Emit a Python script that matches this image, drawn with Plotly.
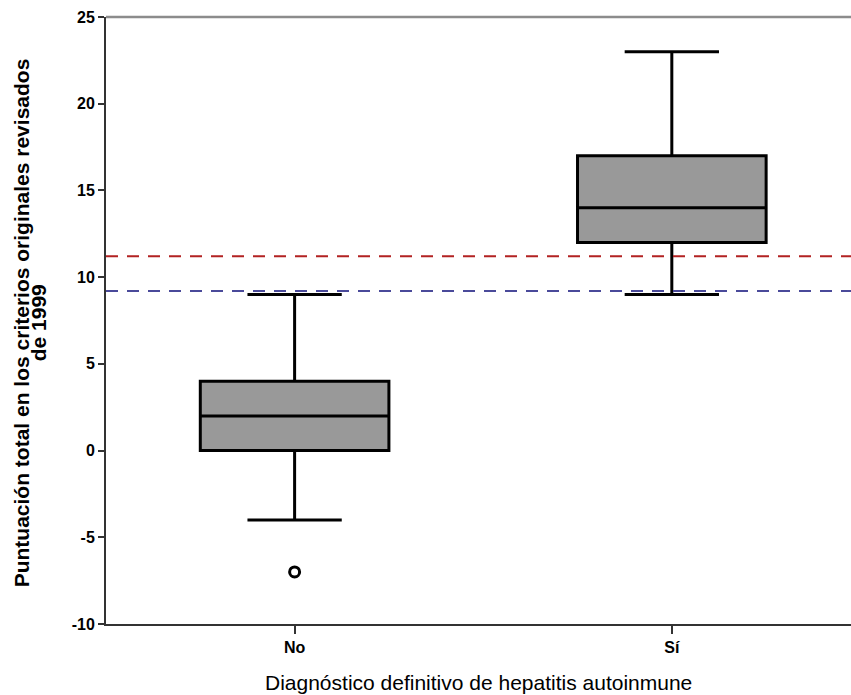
import plotly.graph_objects as go

# Summary statistics per diagnosis group
categories = ["No", "Sí"]
q1 = [0, 12]
median = [2, 14]
q3 = [4, 17]
lower_whisker = [-4, 9]
upper_whisker = [9, 23]

# Outlying observations
outlier_x = ["No"]
outlier_y = [-7]

# Cut-off reference lines
cutoff_probable = 9.2
cutoff_definite = 11.2

y_ticks = [-10, -5, 0, 5, 10, 15, 20, 25]

y_title_lines = ["Puntuación total en los criterios originales revisados", "de 1999"]
x_title = "Diagnóstico definitivo de hepatitis autoinmune"

FONT = "Liberation Sans, Arial, sans-serif"

fig = go.Figure()

fig.add_trace(go.Box(
    x=categories,
    q1=q1, median=median, q3=q3,
    lowerfence=lower_whisker, upperfence=upper_whisker,
    width=0.5,
    whiskerwidth=0.5,
    fillcolor="#999999",
    line=dict(color="black", width=3),
    boxpoints=False,
    showlegend=False,
    hoverinfo="skip",
))

fig.add_trace(go.Scatter(
    x=outlier_x, y=outlier_y, mode="markers",
    marker=dict(symbol="circle-open", size=10, color="black", line=dict(width=3)),
    showlegend=False,
))

fig.add_hline(y=cutoff_definite, line=dict(color="#B22222", width=2, dash="12px,9px"))
fig.add_hline(y=cutoff_probable, line=dict(color="#4A4A9A", width=2, dash="12px,9px"))

# Upper frame line of the plot area
fig.add_shape(type="line", xref="paper", yref="paper", x0=0, x1=1, y0=1, y1=1,
              line=dict(color="#8c8c8c", width=2.5))

fig.update_layout(
    width=851, height=695,
    margin=dict(l=106, r=0, t=17, b=71),
    plot_bgcolor="white", paper_bgcolor="white",
    font=dict(family=FONT, color="black"),
    xaxis=dict(
        type="category",
        range=[-0.5, 1.475],
        showline=True, linecolor="#333333", linewidth=2,
        ticks="outside", ticklen=8, tickwidth=1.5, tickcolor="#333333",
        tickfont=dict(size=16),
        tickvals=categories,
        ticktext=["<b>" + c + "</b>" for c in categories],
        showgrid=False, zeroline=False,
    ),
    yaxis=dict(
        range=[-10, 25],
        tickvals=y_ticks,
        ticktext=["<b>" + str(v) + "</b>" for v in y_ticks],
        tickfont=dict(size=16),
        showline=True, linecolor="#333333", linewidth=2,
        ticks="outside", ticklen=6, tickwidth=1.5, tickcolor="#333333",
        showgrid=False, zeroline=False,
    ),
)

# X axis title
fig.add_annotation(
    xref="paper", yref="paper", x=0.5, y=-0.097,
    text=x_title, showarrow=False, font=dict(size=21),
    xanchor="center", yanchor="middle",
)

# Two-line rotated Y axis title
for xpos, line in zip([-0.1141, -0.0913], y_title_lines):
    fig.add_annotation(
        xref="paper", yref="paper", x=xpos, y=0.497,
        text="<b>" + line + "</b>",
        textangle=-90, showarrow=False, font=dict(size=21),
        xanchor="center", yanchor="middle",
    )

fig.write_html("out.html")
